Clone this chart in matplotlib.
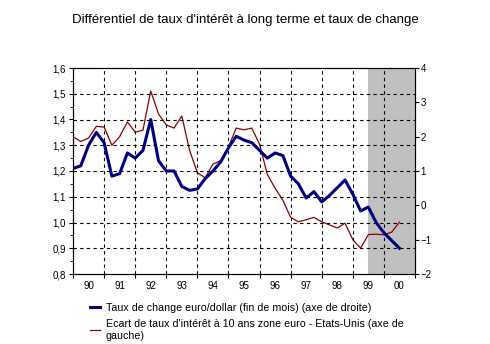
import numpy as np
import matplotlib.pyplot as plt
from matplotlib.ticker import MultipleLocator, FixedLocator, NullFormatter

plt.rcParams['font.family'] = ['Liberation Sans', 'DejaVu Sans']

# quarterly data, 1990Q1 .. 2000Q3
t = 1990 + 0.25 * np.arange(43)
eur_usd = [1.21, 1.22, 1.30, 1.35, 1.31, 1.18, 1.19, 1.27, 1.25, 1.28, 1.40,
           1.24, 1.20, 1.20, 1.14, 1.125, 1.13, 1.17, 1.20, 1.235, 1.29, 1.335,
           1.32, 1.31, 1.28, 1.25, 1.27, 1.26, 1.18, 1.15, 1.095, 1.12, 1.08,
           1.105, 1.135, 1.165, 1.11, 1.045, 1.06, 1.00, 0.96, 0.93, 0.90]
spread = [2.0, 1.86, 1.96, 2.3, 2.28, 1.75, 2.0, 2.43, 2.13, 2.19, 3.33,
          2.66, 2.34, 2.25, 2.6, 1.6, 0.95, 0.8, 1.2, 1.3, 1.7, 2.25,
          2.2, 2.25, 1.78, 0.9, 0.5, 0.15, -0.35, -0.48, -0.42, -0.35, -0.48,
          -0.57, -0.66, -0.52, -1.0, -1.25, -0.85, -0.84, -0.86, -0.78, -0.49]
years = ['90', '91', '92', '93', '94', '95', '96', '97', '98', '99', '00']

lab_blue = "Taux de change euro/dollar (fin de mois) (axe de droite)"
lab_red = "Ecart de taux d'intérêt à 10 ans zone euro - Etats-Unis (axe de\ngauche)"

fig = plt.figure(figsize=(4.9, 3.44), dpi=100)
ax = fig.add_axes([73/490, 1-274/344, 342/490, 206/344])
ax2 = ax.twinx()
ax.set_zorder(ax2.get_zorder() + 1)
ax.patch.set_visible(False)

# shaded forecast zone
ax2.axvspan(1999.5, 2001, color='#c0c0c0', lw=0, zorder=0)
l2, = ax2.plot(t, spread, color='#8b0000', lw=0.9, label=lab_red)
l1, = ax.plot(t, eur_usd, color='#000080', lw=2.2, label=lab_blue)

ax.set_xlim(1990, 2001)
ax.set_ylim(0.8, 1.6)
ax2.set_ylim(-2, 4)

ax.yaxis.set_major_locator(MultipleLocator(0.1))
ax.yaxis.set_minor_locator(MultipleLocator(0.05))
ax.set_yticklabels([f"{v:.1f}".replace('.', ',') for v in ax.get_yticks()])
ax2.yaxis.set_major_locator(MultipleLocator(1))

ax.xaxis.set_major_locator(FixedLocator(np.arange(1990, 2002)))
ax.xaxis.set_major_formatter(NullFormatter())
ax.set_xticks(np.arange(1990.5, 2001, 1), labels=years, minor=True)
ax.tick_params(axis='x', which='both', labelsize=7)
ax.tick_params(axis='x', which='minor', length=0, pad=5)
ax.tick_params(axis='x', which='major', length=3, direction='out')
ax.tick_params(axis='y', which='major', length=3, direction='out', labelsize=7, pad=2)
ax.tick_params(axis='y', which='minor', length=2)
ax2.tick_params(axis='y', length=3, labelsize=7, pad=1)

for v in np.arange(1991, 2001):
    ax.axvline(v, color='black', lw=0.8, ls=(0, (3, 3)), zorder=1)
for v in np.arange(0.9, 1.55, 0.1):
    ax.axhline(v, color='black', lw=0.8, ls=(0, (3, 3)), zorder=1)

fig.text(0.5, 1-20/344, "Différentiel de taux d'intérêt à long terme et taux de change",
         ha='center', va='center', fontsize=9.5)

fig.legend(handles=[l1, l2], loc='upper left', bbox_to_anchor=(90/490, 1-303/344),
           frameon=False, fontsize=7.7, handlelength=0.9, handletextpad=0.55,
           labelspacing=0.6, borderaxespad=0, borderpad=0)

fig.savefig('out.png', dpi=100)
